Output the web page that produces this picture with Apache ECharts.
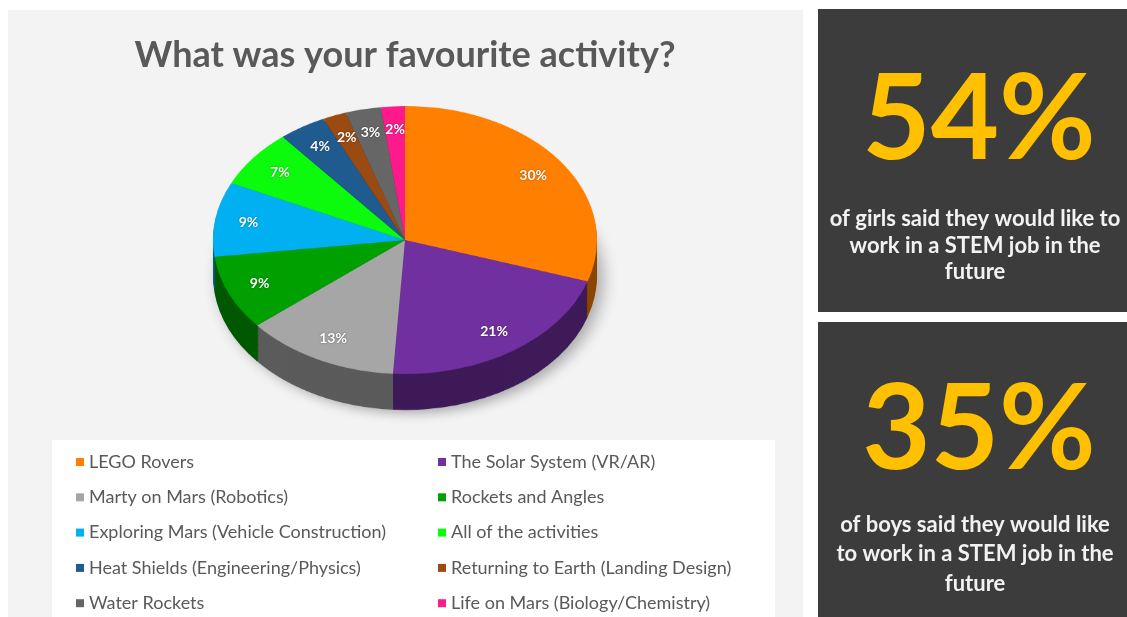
<!DOCTYPE html>
<html><head><meta charset="utf-8">
<script src="https://cdn.jsdelivr.net/npm/echarts@6/dist/echarts.min.js"></script>
<style>
html,body{margin:0;padding:0;background:#fff;width:1127px;height:617px;overflow:hidden;}
#bg{position:absolute;left:8px;top:10px;width:795px;height:607px;background:#f3f3f3;}
#pie{position:absolute;left:0;top:0;width:810px;height:640px;transform-origin:0 0;}
#main{position:absolute;left:0;top:0;width:1127px;height:617px;}
</style></head><body>
<div id="bg"></div><div id="pie"></div><div id="main"></div>
<script>
// ---- data ----
const chartTitle = 'What was your favourite activity?';
const categories = [
  'LEGO Rovers',
  'The Solar System (VR/AR)',
  'Marty on Mars (Robotics)',
  'Rockets and Angles',
  'Exploring Mars (Vehicle Construction)',
  'All of the activities',
  'Heat Shields (Engineering/Physics)',
  'Returning to Earth (Landing Design)',
  'Water Rockets',
  'Life on Mars (Biology/Chemistry)'
];
const values = [30, 21, 13, 9, 9, 7, 4, 2, 3, 2];
const statValues = ['54%', '35%'];
const statTexts = [
  ['of girls said they would like to', 'work in a STEM job in the', 'future'],
  ['of boys said they would like', 'to work in a STEM job in the', 'future']
];

// ---- styles ----
const palette = ['#FF7F00','#7030A0','#A6A6A6','#00A000','#00B0F0','#0CFA0C','#1F5B8F','#9B4A12','#666666','#FF1A8C'];
const PIE_CX = 405, PIE_CY = 240, RX = 192, RY = 134, DEPTH = 36;
const K = RY / RX;
const FONT = 'Lato, "Open Sans", sans-serif';

function darken(hex, f) {
  const n = parseInt(hex.slice(1), 16);
  const r = Math.round(((n >> 16) & 255) * f), g = Math.round(((n >> 8) & 255) * f), b = Math.round((n & 255) * f);
  return 'rgb(' + r + ',' + g + ',' + b + ')';
}

// ---- squished (3D-looking) pie ----
const pieDiv = document.getElementById('pie');
pieDiv.style.transform = 'scaleY(' + K + ')';
const pieChart = echarts.init(pieDiv, null, {renderer: 'canvas'});
const cyC = PIE_CY / K;
const depthC = DEPTH / K;
const pieSeries = [];
const total = values.reduce((a, b) => a + b, 0);
// soft shadow under the pie
pieSeries.push({
  type: 'pie', silent: true, animation: false, radius: RX, center: [PIE_CX, cyC + depthC],
  label: {show: false}, labelLine: {show: false},
  data: [{value: total, name: 'shadow', itemStyle: {color: '#e6e6e6', shadowBlur: 16, shadowColor: 'rgba(0,0,0,0.3)', shadowOffsetX: 6, shadowOffsetY: 5}}]
});
const N = 16;
for (let i = N; i >= 1; i--) {
  pieSeries.push({
    type: 'pie', silent: true, animation: false, radius: RX,
    center: [PIE_CX, cyC + depthC * i / N],
    label: {show: false}, labelLine: {show: false},
    itemStyle: {borderWidth: 0},
    data: values.map((v, j) => ({value: v, name: categories[j], itemStyle: {color: darken(palette[j], 0.55)}}))
  });
}
pieSeries.push({
  type: 'pie', silent: true, animation: false, radius: RX, center: [PIE_CX, cyC],
  label: {show: false}, labelLine: {show: false},
  itemStyle: {borderWidth: 0},
  data: values.map((v, j) => ({value: v, name: categories[j], itemStyle: {color: palette[j]}}))
});
pieChart.setOption({animation: false, series: pieSeries});

// ---- main overlay chart: title, labels, legend, panels ----
const main = echarts.init(document.getElementById('main'), null, {renderer: 'canvas'});
const LABEL_F = 0.8;
const col1 = [], col2 = [];
categories.forEach((c, i) => {
  const item = {name: c, itemStyle: {color: palette[i], opacity: 1}};
  (i % 2 === 0 ? col1 : col2).push(item);
});
const legendCommon = {
  orient: 'vertical', top: 453, padding: 0, itemWidth: 8, itemHeight: 8, itemGap: 17.3,
  selectedMode: false, icon: 'rect',
  itemStyle: {opacity: 1},
  textStyle: {fontFamily: FONT, fontSize: 18, color: '#595959', lineHeight: 18}
};
const graphics = [
  {type: 'rect', shape: {x: 52, y: 440, width: 723, height: 177}, style: {fill: '#ffffff'}, z: -10},
  {type: 'text', x: PIE_CX, y: 55, style: {text: chartTitle, align: 'center', verticalAlign: 'middle', fill: '#595959', font: 'bold 36px ' + FONT}},
  {type: 'rect', shape: {x: 818, y: 9, width: 309, height: 303}, style: {fill: '#3c3c3c'}, z: -10},
  {type: 'rect', shape: {x: 818, y: 322, width: 309, height: 295}, style: {fill: '#3c3c3c'}, z: -10}
];
const statNumY = [121, 431];
const statLineY = [[219, 246, 272], [525, 554, 584]];
statValues.forEach((s, i) => {
  graphics.push({type: 'text', x: 979, y: statNumY[i], style: {text: s, align: 'center', verticalAlign: 'middle', fill: '#FFC000', font: 'bold 118px ' + FONT}});
  statTexts[i].forEach((t, j) => {
    graphics.push({type: 'text', x: 975, y: statLineY[i][j], style: {text: t, align: 'center', verticalAlign: 'middle', fill: '#f2f2f2', font: 'bold 22px ' + FONT}});
  });
});
main.setOption({
  backgroundColor: 'transparent',
  animation: false,
  graphic: graphics,
  legend: [
    Object.assign({left: 76, data: col1}, legendCommon),
    Object.assign({left: 438, data: col2}, legendCommon)
  ],
  series: [{
    type: 'pie', silent: true, radius: RX, center: [PIE_CX, PIE_CY],
    itemStyle: {borderWidth: 0},
    data: values.map((v, j) => ({value: v, name: categories[j], itemStyle: {color: 'rgba(0,0,0,0)'}})),
    label: {
      show: true, position: 'inside', formatter: '{c}%', color: '#ffffff', opacity: 1,
      fontFamily: FONT, fontWeight: 'bold', fontSize: 14,
      textShadowColor: 'rgba(0,0,0,0.45)', textShadowBlur: 2
    },
    labelLine: {show: false},
    labelLayout: function (p) {
      const lx = p.labelRect.x + p.labelRect.width / 2;
      const ly = p.labelRect.y + p.labelRect.height / 2;
      const s = LABEL_F / 0.5;
      return {x: PIE_CX + (lx - PIE_CX) * s, y: PIE_CY + (ly - PIE_CY) * s * K, align: 'center', verticalAlign: 'middle'};
    }
  }]
});
</script>
</body></html>
